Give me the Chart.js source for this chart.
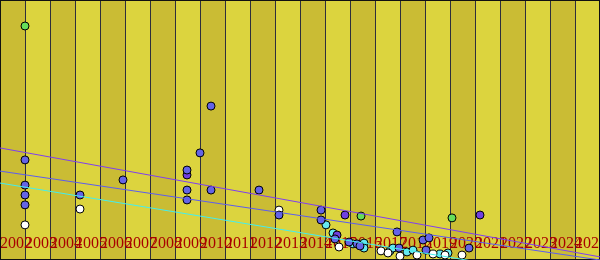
<!DOCTYPE html>
<html>
<head>
<meta charset="utf-8">
<script src="https://cdn.jsdelivr.net/npm/chart.js@4.4.1/dist/chart.umd.min.js"></script>
<style>
  html, body { margin: 0; padding: 0; background: #ffffff; }
  #grafica { display: block; }
</style>
</head>
<body>
<canvas id="grafica" width="600" height="260"></canvas>
<script>
// tick labels of the x axis (one per gridline)
const years = [2002, 2003, 2004, 2005, 2006, 2007, 2008, 2009, 2010, 2011, 2012, 2013,
  2014, 2015, 2016, 2017, 2018, 2019, 2020, 2021, 2022, 2023, 2024, 2025, 2026];

// series: x = year, y = value
const bluePts = [
  [2003.0, 38.5], [2003.0, 28.8], [2003.0, 25.0], [2003.0, 21.2], [2005.2, 25.0],
  [2006.92, 30.8], [2009.48, 34.6], [2009.48, 26.9], [2009.48, 23.1], [2010.0, 41.2],
  [2010.44, 59.2], [2010.44, 26.9], [2012.36, 26.9], [2013.16, 17.3], [2014.84, 19.2],
  [2014.84, 15.4], [2015.4, 8.1], [2015.96, 6.9], [2016.28, 6.2], [2016.4, 5.4],
  [2017.88, 10.8], [2017.96, 4.6], [2018.92, 7.7], [2019.16, 8.5], [2019.04, 3.8],
  [2020.76, 4.6]
];
const violetPts = [[2009.48, 32.7], [2015.8, 17.3], [2015.48, 9.6], [2021.2, 17.3]];
const greenPts = [[2003.0, 90.0], [2016.44, 16.9], [2020.08, 16.2]];
const whitePts = [
  [2003.0, 13.5], [2005.2, 19.6], [2013.16, 19.2], [2015.56, 5.0], [2017.24, 3.5],
  [2017.52, 2.7], [2018.0, 1.5], [2018.68, 1.9], [2019.32, 2.3], [2019.8, 1.9],
  [2020.48, 1.9]
];
const cyanPts = [
  [2015.04, 13.5], [2015.32, 10.4], [2016.12, 6.2], [2016.56, 6.5], [2016.56, 4.6],
  [2017.6, 3.5], [2017.72, 4.6], [2018.28, 3.1], [2018.52, 3.8], [2019.6, 2.3],
  [2019.92, 2.7]
];

// trend lines (start and end of the range)
const trendTop = [[2002, 43.1], [2026, 1.2]];
const trendMid = [[2002, 34.2], [2026, 0.0]];
const trendLow = [[2002, 29.6], [2026, -8.5]];

const toXY = arr => arr.map(p => ({ x: p[0], y: p[1] }));

function puntos(data, color) {
  return {
    type: 'scatter',
    data: toXY(data),
    backgroundColor: color,
    borderColor: '#000000',
    borderWidth: 1,
    pointRadius: 4,
    pointHoverRadius: 4
  };
}

function tendencia(data, color) {
  return {
    type: 'line',
    data: toXY(data),
    borderColor: color,
    borderWidth: 1,
    pointRadius: 0,
    fill: false,
    tension: 0
  };
}

// alternating vertical bands between the x ticks
const bandas = {
  id: 'bandas',
  beforeDraw(chart) {
    const { ctx, chartArea, scales } = chart;
    const ticks = scales.x.ticks;
    ctx.save();
    for (let i = 0; i < ticks.length - 1; i++) {
      const x1 = scales.x.getPixelForValue(ticks[i].value);
      const x2 = scales.x.getPixelForValue(ticks[i + 1].value);
      ctx.fillStyle = i % 2 === 0 ? '#cabc34' : '#dcd43e';
      ctx.fillRect(x1, chartArea.top, x2 - x1, chartArea.bottom - chartArea.top);
    }
    ctx.restore();
  },
  beforeDatasetsDraw(chart) {
    const { ctx, chartArea } = chart;
    ctx.save();
    ctx.strokeStyle = '#111111';
    ctx.lineWidth = 1;
    ctx.strokeRect(chartArea.left + 0.5, chartArea.top + 0.5,
      chartArea.right - chartArea.left - 1, chartArea.bottom - chartArea.top - 1);
    ctx.restore();
  }
};

const ctx = document.getElementById('grafica').getContext('2d');
new Chart(ctx, {
  data: {
    datasets: [
      tendencia(trendTop, '#7f3ff0'),
      tendencia(trendMid, '#5c5cf0'),
      tendencia(trendLow, '#44eeee'),
      puntos(bluePts, '#6464e6'),
      puntos(violetPts, '#7040e0'),
      puntos(greenPts, '#66dd5a'),
      puntos(whitePts, '#ffffff'),
      puntos(cyanPts, '#66e8f0')
    ]
  },
  options: {
    responsive: false,
    animation: false,
    events: [],
    layout: { padding: 0, autoPadding: false },
    scales: {
      x: {
        type: 'linear',
        min: 2002,
        max: 2026,
        position: { y: 9.8 },
        afterBuildTicks: axis => {
          axis.ticks = years.map(v => ({ value: v }));
        },
        afterFit: axis => {
          axis.paddingLeft = 0;
          axis.paddingRight = 0;
          axis.paddingTop = 0;
          axis.paddingBottom = 0;
        },
        grid: {
          color: '#2e2e3c',
          lineWidth: 1,
          drawTicks: false
        },
        border: { display: false },
        ticks: {
          autoSkip: false,
          maxRotation: 0,
          minRotation: 0,
          align: 'start',
          padding: 0,
          color: '#a80000',
          font: { family: '"Liberation Serif", serif', size: 16 },
          callback: v => String(v)
        }
      },
      y: {
        type: 'linear',
        display: false,
        min: 0,
        max: 100
      }
    },
    plugins: {
      legend: { display: false },
      tooltip: { enabled: false }
    }
  },
  plugins: [bandas]
});
</script>
</body>
</html>
